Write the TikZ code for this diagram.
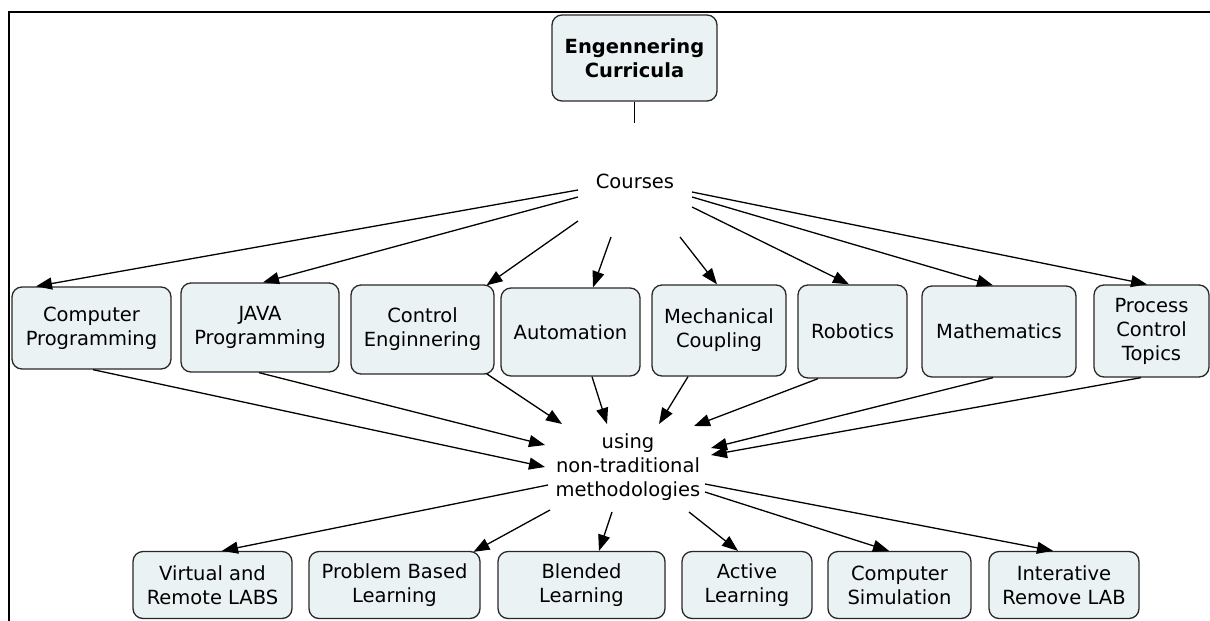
\documentclass[tikz,border=0pt]{standalone}
\usepackage{fontspec}
\setmainfont{DejaVu Sans}
\usetikzlibrary{arrows.meta,calc}
\definecolor{boxfill}{RGB}{235,242,244}
\definecolor{boxline}{RGB}{40,40,40}
\begin{document}
\begin{tikzpicture}[x=1pt,y=-1pt,
  concept/.style={draw=boxline,line width=1.3pt,fill=boxfill,rounded corners=10pt,inner sep=0pt,align=center,font=\fontsize{19.5}{24}\selectfont},
  phrase/.style={inner sep=0pt,align=center,font=\fontsize{19.5}{24}\selectfont},
  arr/.style={line width=1.3pt,-{Triangle[length=16pt,width=12pt]}},
  link/.style={line width=1.2pt}]
\useasboundingbox (0,0) rectangle (1210,621);
% frame
\draw[line width=2pt] (9,621) -- (9,12) -- (1210,12);

% top concept
\node[concept,font=\bfseries\fontsize{19.5}{24}\selectfont,minimum width=165pt,minimum height=86pt] (ec) at (634.5,58) {Engennering\\Curricula};
\coordinate (ecend) at (634.5,123);
\draw[link] (ec.south) -- (ecend);

\node[phrase] (crs) at (635,181) {Courses};

% row 1
\node[concept,minimum width=159pt,minimum height=82pt] (cp) at (91.5,328) {Computer\\Programming};
\node[concept,minimum width=158pt,minimum height=89pt] (java) at (260,327.5) {JAVA\\Programming};
\node[concept,minimum width=143pt,minimum height=89pt] (ctl) at (422.5,329.5) {Control\\Enginnering};
\node[concept,minimum width=139pt,minimum height=88pt] (aut) at (570.5,332) {Automation};
\node[concept,minimum width=134pt,minimum height=91pt] (mech) at (719,330.5) {Mechanical\\Coupling};
\node[concept,minimum width=109pt,minimum height=93pt] (rob) at (852.5,331.5) {Robotics};
\node[concept,minimum width=154pt,minimum height=91pt] (math) at (999,331.5) {Mathematics};
\node[concept,minimum width=115pt,minimum height=92pt] (proc) at (1151.5,331) {Process\\Control\\Topics};

\node[phrase] (use) at (628,467) {using\\non-traditional\\methodologies};

% row 2
\node[concept,minimum width=159pt,minimum height=67pt] (vr) at (212.5,585) {Virtual and\\Remote LABS};
\node[concept,minimum width=171pt,minimum height=67pt] (pbl) at (394.5,585) {Problem Based\\Learning};
\node[concept,minimum width=167pt,minimum height=67pt] (bl) at (581.5,585) {Blended\\Learning};
\node[concept,minimum width=130pt,minimum height=67pt] (al) at (747,585) {Active\\Learning};
\node[concept,minimum width=143pt,minimum height=67pt] (cs) at (899.5,585) {Computer\\Simulation};
\node[concept,minimum width=150pt,minimum height=67pt] (irl) at (1064,585) {Interative\\Remove LAB};

% Courses -> row 1
\draw[arr] ($(crs)+(-57,9)$)  -- ([xshift=-55.5pt]cp.north);
\draw[arr] ($(crs)+(-57,16)$) -- ([xshift=3pt]java.north);
\draw[arr] ($(crs)+(-57,40)$) -- ([xshift=64pt,yshift=-1pt]ctl.north);
\draw[arr] ($(crs)+(-24,56)$) -- ([xshift=22.5pt]aut.north);
\draw[arr] ($(crs)+(45,56)$)  -- ([xshift=-2pt]mech.north);
\draw[arr] ($(crs)+(57,26)$)  -- ([xshift=-3.5pt]rob.north);
\draw[arr] ($(crs)+(57,16)$)  -- ([xshift=-6pt]math.north);
\draw[arr] ($(crs)+(57,11)$)  -- ([xshift=-4.5pt]proc.north);

% row 1 -> using
\draw[arr] ([xshift=1.5pt]cp.south)   -- ($(use)+(-83,0)$);
\draw[arr] ([xshift=-1pt]java.south)  -- ($(use)+(-83,-22)$);
\draw[arr] ([xshift=64pt,yshift=1pt]ctl.south) -- ($(use)+(-66,-43)$);
\draw[arr] ([xshift=21.5pt]aut.south) -- ($(use)+(-21,-43)$);
\draw[arr] ([xshift=-31pt]mech.south) -- ($(use)+(31,-43)$);
\draw[arr] ([xshift=-34.5pt]rob.south) -- ($(use)+(66,-41)$);
\draw[arr] ([xshift=-6pt]math.south)  -- ($(use)+(83,-19)$);
\draw[arr] ([xshift=-10.5pt]proc.south) -- ($(use)+(83,-12)$);

% using -> row 2
\draw[arr] ($(use)+(-80,18)$) -- ([xshift=9.5pt]vr.north);
\draw[arr] ($(use)+(-78,43)$) -- ([xshift=79pt,yshift=-1pt]pbl.north);
\draw[arr] ($(use)+(-16,45)$) -- ([xshift=17.5pt]bl.north);
\draw[arr] ($(use)+(61,45)$)  -- ([xshift=-9pt]al.north);
\draw[arr] ($(use)+(77,25)$)  -- ([xshift=-10.5pt]cs.north);
\draw[arr] ($(use)+(77,17)$)  -- ([xshift=-11pt]irl.north);
\end{tikzpicture}
\end{document}
